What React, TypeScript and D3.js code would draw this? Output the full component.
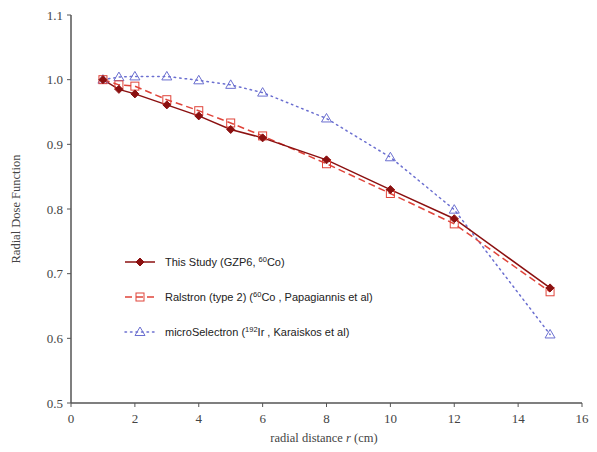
import React from "react";
import * as d3 from "d3";

const radii = [1, 1.5, 2, 3, 4, 5, 6, 8, 10, 12, 15];
const thisStudy = [1.0, 0.985, 0.978, 0.961, 0.944, 0.923, 0.91, 0.876, 0.83, 0.785, 0.678];
const ralston = [1.0, 0.992, 0.99, 0.969, 0.952, 0.933, 0.913, 0.87, 0.824, 0.777, 0.672];
const microSel = [1.0, 1.004, 1.005, 1.005, 0.999, 0.992, 0.98, 0.94, 0.88, 0.799, 0.606];
const xTicks = [0, 2, 4, 6, 8, 10, 12, 14, 16];
const yTicks = [0.5, 0.6, 0.7, 0.8, 0.9, 1.0, 1.1];

const W = 597, H = 452;
const x = d3.scaleLinear().domain([0, 16]).range([71, 582]);
const y = d3.scaleLinear().domain([0.5, 1.1]).range([403, 15]);

const C1 = "#8b1010";
const C2 = "#e0443a";
const C3 = "#6b6fd0";

function Diamond({ cx, cy }: { cx: number; cy: number }) {
  const s = 4;
  return <path d={`M${cx},${cy - s}L${cx + s},${cy}L${cx},${cy + s}L${cx - s},${cy}Z`} fill={C1} stroke={C1} />;
}
function Square({ cx, cy }: { cx: number; cy: number }) {
  return <rect x={cx - 4} y={cy - 4} width={8} height={8} fill="none" stroke={C2} strokeWidth={1} />;
}
function Tri({ cx, cy }: { cx: number; cy: number }) {
  const s = 5;
  return <path d={`M${cx},${cy - s}L${cx + s},${cy + s * 0.7}L${cx - s},${cy + s * 0.7}Z`} fill="none" stroke={C3} strokeWidth={1} />;
}

export default function App() {
  const line = d3.line<number>().x((_, i) => x(radii[i])).y((d) => y(d));
  const serif = "'Liberation Serif', 'DejaVu Serif', serif";
  const sans = "'Liberation Sans', Arial, sans-serif";
  return (
    <svg width={W} height={H} style={{ position: "absolute", left: 0, top: 0, background: "#fff" }}>
      <line x1={x(0)} x2={x(0)} y1={y(1.1)} y2={y(0.5)} stroke="#555" strokeWidth={1.5} />
      <line x1={x(0)} x2={x(16)} y1={y(0.5)} y2={y(0.5)} stroke="#555" strokeWidth={1.5} />
      {yTicks.map((t) => (
        <g key={"y" + t}>
          <line x1={x(0) - 4} x2={x(0)} y1={y(t)} y2={y(t)} stroke="#555" />
          <text x={x(0) - 8} y={y(t)} dy="0.35em" textAnchor="end" fontFamily={serif} fontSize={13} fill="#444">
            {t.toFixed(1)}
          </text>
        </g>
      ))}
      {xTicks.map((t) => (
        <g key={"x" + t}>
          <line x1={x(t)} x2={x(t)} y1={y(0.5)} y2={y(0.5) + 4} stroke="#555" />
          <text x={x(t)} y={y(0.5) + 20} textAnchor="middle" fontFamily={serif} fontSize={13} fill="#444">
            {t}
          </text>
        </g>
      ))}
      <text x={324} y={442} textAnchor="middle" fontFamily={serif} fontSize={12.5} fill="#444">
        radial distance <tspan fontStyle="italic">r</tspan> (cm)
      </text>
      <text transform={`translate(20,${y(0.8)}) rotate(-90)`} textAnchor="middle" fontFamily={serif} fontSize={12.5} fill="#444">
        Radial Dose Function
      </text>

      <path d={line(microSel) || ""} fill="none" stroke={C3} strokeWidth={1.5} strokeDasharray="1.5 4" strokeLinecap="round" />
      <path d={line(ralston) || ""} fill="none" stroke={C2} strokeWidth={1.5} strokeDasharray="7 4" />
      <path d={line(thisStudy) || ""} fill="none" stroke={C1} strokeWidth={1.5} />
      {microSel.map((v, i) => <Tri key={"t" + i} cx={x(radii[i])} cy={y(v)} />)}
      {ralston.map((v, i) => <Square key={"s" + i} cx={x(radii[i])} cy={y(v)} />)}
      {thisStudy.map((v, i) => <Diamond key={"d" + i} cx={x(radii[i])} cy={y(v)} />)}

      <g fontFamily={sans} fontSize={11} fill="#222">
        <line x1={125} x2={155} y1={262} y2={262} stroke={C1} strokeWidth={1.5} />
        <Diamond cx={140} cy={262} />
        <text x={165} y={262} dy="0.35em">
          This Study (GZP6, <tspan fontSize={7.5} dy="-4">60</tspan><tspan dy="4">Co)</tspan>
        </text>
        <line x1={125} x2={155} y1={297} y2={297} stroke={C2} strokeWidth={1.5} strokeDasharray="7 4" />
        <Square cx={140} cy={297} />
        <text x={165} y={297} dy="0.35em">
          Ralstron (type 2) (<tspan fontSize={7.5} dy="-4">60</tspan><tspan dy="4">Co , Papagiannis et al)</tspan>
        </text>
        <line x1={125} x2={155} y1={332} y2={332} stroke={C3} strokeWidth={1.5} strokeDasharray="1.5 4" strokeLinecap="round" />
        <Tri cx={140} cy={332} />
        <text x={165} y={332} dy="0.35em">
          microSelectron (<tspan fontSize={7.5} dy="-4">192</tspan><tspan dy="4">Ir , Karaiskos et al)</tspan>
        </text>
      </g>
    </svg>
  );
}
